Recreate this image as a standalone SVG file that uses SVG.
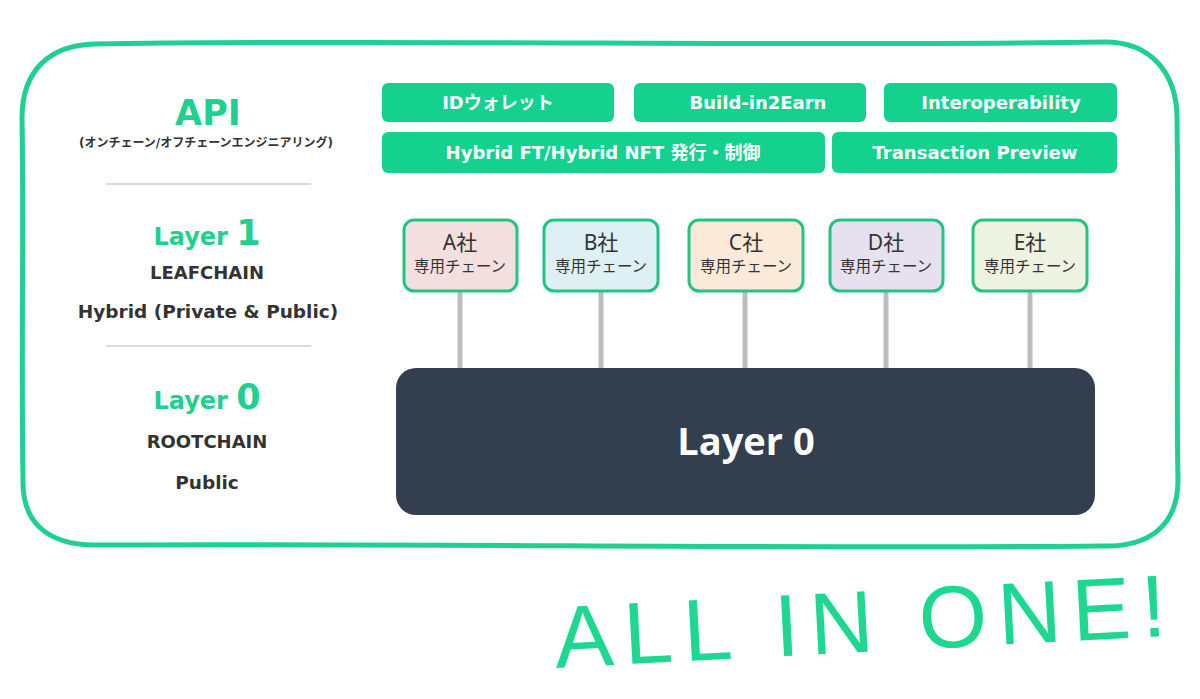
<svg xmlns="http://www.w3.org/2000/svg" width="1200" height="699" viewBox="0 0 1200 699">
<style>
.frame{fill:none;stroke:#1fd08e;stroke-width:5;stroke-linecap:round}
.api{fill:#14d18e}
.apit{fill:#fff;font-family:"DejaVu Sans","Noto Sans CJK JP",sans-serif;font-weight:bold;font-size:18px;text-anchor:middle}
.chain{stroke:#22c483;stroke-width:3}
.ct1{fill:#333;font-family:"Noto Sans","Noto Sans CJK JP",sans-serif;font-size:21px;text-anchor:middle}
.ct2{fill:#333;font-family:"Noto Sans CJK JP",sans-serif;font-size:15.5px;text-anchor:middle}
.conn{stroke:#bdbdbd;stroke-width:5}
.sep{stroke:#cfcfcf;stroke-width:1.5}
.gh{fill:#1fd08e;font-family:"DejaVu Sans",sans-serif;font-weight:bold;text-anchor:middle}
.dk{fill:#333;font-family:"DejaVu Sans","Noto Sans CJK JP",sans-serif;font-weight:bold;text-anchor:middle}
</style>
<rect width="1200" height="699" fill="#fff"/>
<path class="frame" d="M 95 44 C 400 39, 800 47, 1105 42 C 1150 42, 1178 72, 1177 122 C 1179 250, 1176 380, 1178 480 C 1178 525, 1150 548, 1100 546 C 800 549, 400 543, 95 545 C 45 545, 22 520, 23 480 C 21 350, 24 230, 22 118 C 22 70, 50 45, 95 44 Z"/>

<g id="left-labels">
<text class="gh" x="208" y="125" font-size="35">API</text>
<text class="dk" x="206" y="147" font-size="12" font-family="Noto Sans CJK JP">(オンチェーン/オフチェーンエンジニアリング)</text>
<line class="sep" x1="106" y1="184" x2="311" y2="184"/>
<text class="gh" x="207" y="245"><tspan font-size="24">Layer </tspan><tspan font-size="35">1</tspan></text>
<text class="dk" x="207" y="279" font-size="18">LEAFCHAIN</text>
<text class="dk" x="208" y="318" font-size="18.5">Hybrid (Private &amp; Public)</text>
<line class="sep" x1="106" y1="346" x2="311" y2="346"/>
<text class="gh" x="207" y="409"><tspan font-size="24">Layer </tspan><tspan font-size="35">0</tspan></text>
<text class="dk" x="207" y="448" font-size="18">ROOTCHAIN</text>
<text class="dk" x="207" y="489" font-size="18.5">Public</text>
</g>

<g id="api-id-wallet"><rect class="api" x="382" y="83" width="232" height="39" rx="6"/><text class="apit" x="498" y="109">IDウォレット</text></g>
<g id="api-build"><rect class="api" x="634" y="83" width="232" height="39" rx="6"/><text class="apit" x="758" y="109">Build-in2Earn</text></g>
<g id="api-interop"><rect class="api" x="884" y="83" width="233" height="39" rx="6"/><text class="apit" x="1001" y="109">Interoperability</text></g>
<g id="api-hybrid"><rect class="api" x="382" y="132" width="443" height="41" rx="6"/><text class="apit" x="603" y="159">Hybrid FT/Hybrid NFT  発行・制御</text></g>
<g id="api-tx"><rect class="api" x="832" y="132" width="285" height="41" rx="6"/><text class="apit" x="975" y="159">Transaction Preview</text></g>

<g id="connectors">
<line class="conn" x1="460" y1="291" x2="460" y2="370"/>
<line class="conn" x1="601" y1="291" x2="601" y2="370"/>
<line class="conn" x1="745" y1="291" x2="745" y2="370"/>
<line class="conn" x1="886" y1="291" x2="886" y2="370"/>
<line class="conn" x1="1030" y1="291" x2="1030" y2="370"/>
</g>

<g id="chain-a"><rect class="chain" x="404" y="220" width="113" height="71" rx="10" fill="#f3dfdf"/><text class="ct1" x="460" y="250">A社</text><text class="ct2" x="460" y="272">専用チェーン</text></g>
<g id="chain-b"><rect class="chain" x="544" y="220" width="114" height="71" rx="10" fill="#dff0f4"/><text class="ct1" x="601" y="250">B社</text><text class="ct2" x="601" y="272">専用チェーン</text></g>
<g id="chain-c"><rect class="chain" x="689" y="220" width="114" height="71" rx="10" fill="#fbe9d9"/><text class="ct1" x="746" y="250">C社</text><text class="ct2" x="746" y="272">専用チェーン</text></g>
<g id="chain-d"><rect class="chain" x="830" y="220" width="113" height="71" rx="10" fill="#e7e1ef"/><text class="ct1" x="886" y="250">D社</text><text class="ct2" x="886" y="272">専用チェーン</text></g>
<g id="chain-e"><rect class="chain" x="973" y="220" width="114" height="71" rx="10" fill="#eef2e1"/><text class="ct1" x="1030" y="250">E社</text><text class="ct2" x="1030" y="272">専用チェーン</text></g>

<g id="layer0"><rect x="396" y="368" width="699" height="147" rx="20" fill="#333e4f"/><text x="746" y="455" fill="#fff" font-family="'Open Sans','Noto Sans',sans-serif" font-weight="bold" font-size="38" text-anchor="middle">Layer 0</text></g>

<text x="556" y="668" transform="rotate(-3 556 668)" fill="#1ed892" font-family="'Liberation Sans',sans-serif" font-size="88" letter-spacing="3" textLength="615" lengthAdjust="spacing">ALL IN ONE!</text>
</svg>
